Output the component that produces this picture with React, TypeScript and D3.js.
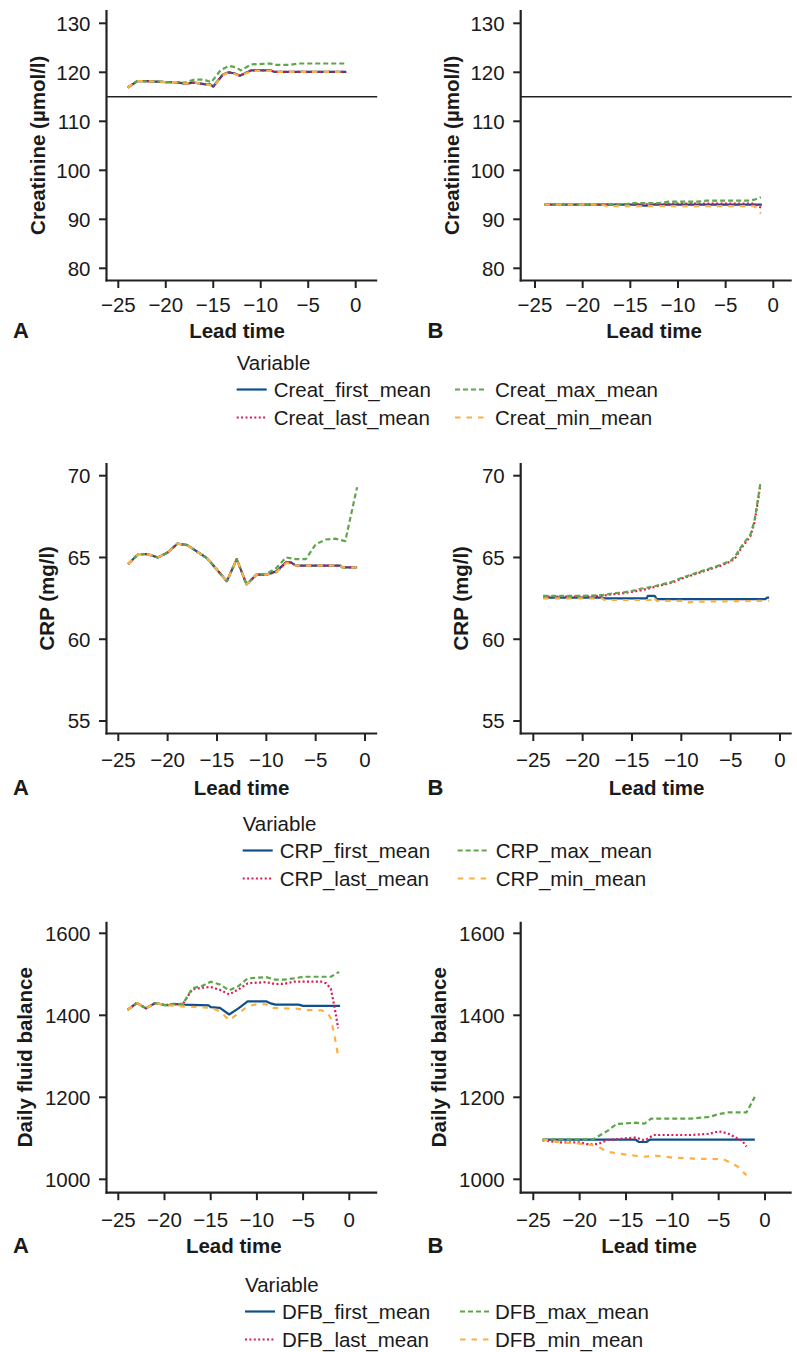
import React from 'react';
import * as d3 from 'd3';

type P = [number, number];

// ---------------- DATA ----------------
const xTicks = [-25, -20, -15, -10, -5, 0];
const creatTicks = [80, 90, 100, 110, 120, 130];
const crpTicks = [55, 60, 65, 70];
const dfbTicks = [1000, 1200, 1400, 1600];
const creatReference = 115;

const creatA_first: P[] = [[-24,116.9],[-23,118.2],[-22,118.2],[-21,118.1],[-20,118.0],[-19,118.0],[-18,117.7],[-17,117.9],[-16,117.6],[-15.3,117.5],[-15,117.1],[-14,119.5],[-13.4,120.0],[-12.8,119.8],[-12.2,119.3],[-11,120.4],[-9,120.4],[-8.6,120.1],[-1,120.1]];
const creatA_last: P[] = [[-24,116.9],[-23,118.2],[-22,118.2],[-21,118.1],[-20,118.0],[-19,118.0],[-18,117.7],[-17,117.9],[-16,117.6],[-15.3,117.5],[-15,117.1],[-14,119.5],[-13.4,120.0],[-12.8,119.8],[-12.2,119.3],[-11,120.4],[-9,120.4],[-8.6,120.1],[-1,120.1]];
const creatA_max: P[] = [[-24,116.9],[-23,118.2],[-21,118.1],[-20,118.0],[-18,117.9],[-17,118.5],[-16,118.5],[-15.2,118.0],[-14.2,120.5],[-13.3,121.3],[-12.6,121.0],[-12.1,120.4],[-11,121.6],[-9,121.8],[-8.5,121.5],[-7,121.5],[-6,121.8],[-1,121.8]];
const creatA_min: P[] = [[-24,116.9],[-23,118.2],[-22,118.2],[-21,118.1],[-20,118.0],[-19,118.0],[-18,117.7],[-17,117.9],[-16,117.6],[-15.3,117.4],[-15,117.0],[-14,119.4],[-13.4,120.0],[-12.8,119.7],[-12.2,119.2],[-11,120.3],[-9,120.3],[-8.6,120.1],[-1,120.1]];

const creatB_first: P[] = [[-24,93.0],[-14,93.0],[-13.6,92.8],[-13,92.8],[-12.7,93.0],[-1.2,93.0]];
const creatB_last: P[] = [[-24,93.0],[-15,93.0],[-12,93.1],[-10,93.2],[-2,93.2],[-1.5,92.6],[-1.2,92.3]];
const creatB_max: P[] = [[-24,93.0],[-15.5,93.0],[-15,93.3],[-12,93.3],[-11,93.6],[-8,93.6],[-7,93.8],[-2.5,93.8],[-2,94.0],[-1.3,94.5]];
const creatB_min: P[] = [[-24,93.0],[-18,93.0],[-17.5,92.7],[-2,92.7],[-1.6,91.8],[-1.3,91.2]];

const crpA_first: P[] = [[-24,64.6],[-23,65.2],[-22,65.2],[-21,65.0],[-20,65.3],[-19,65.85],[-18,65.75],[-16,64.95],[-14,63.55],[-13,64.9],[-12,63.35],[-11,63.95],[-10,63.95],[-9,64.15],[-8,64.7],[-7.5,64.7],[-7,64.5],[-2.5,64.5],[-2.3,64.4],[-0.8,64.4]];
const crpA_last: P[] = [[-24,64.6],[-23,65.2],[-22,65.2],[-21,65.0],[-20,65.3],[-19,65.85],[-18,65.75],[-16,64.95],[-14,63.55],[-13,64.9],[-12,63.35],[-11,63.95],[-10,63.95],[-9,64.1],[-8,64.7],[-7.5,64.7],[-7,64.5],[-2.5,64.5],[-2.3,64.4],[-0.8,64.4]];
const crpA_max: P[] = [[-24,64.6],[-23,65.2],[-22,65.2],[-21,65.0],[-20,65.3],[-19,65.85],[-18,65.75],[-16,64.95],[-14,63.55],[-13,64.9],[-12,63.35],[-11,63.95],[-10,64.0],[-9,64.35],[-8,65.0],[-7,64.9],[-6,64.9],[-5,65.8],[-4,66.1],[-3,66.15],[-2,66.0],[-0.8,69.3]];
const crpA_min: P[] = [[-24,64.6],[-23,65.2],[-22,65.2],[-21,65.0],[-20,65.3],[-19,65.85],[-18,65.75],[-16,64.95],[-14,63.55],[-13,64.9],[-12,63.35],[-11,63.95],[-10,63.95],[-9,64.1],[-8,64.65],[-7.5,64.65],[-7,64.5],[-2.5,64.5],[-2.3,64.4],[-0.8,64.4]];

const crpB_first: P[] = [[-24,62.55],[-18,62.55],[-17.8,62.5],[-13.5,62.5],[-13.4,62.65],[-12.7,62.65],[-12.5,62.45],[-1.5,62.45],[-1.3,62.55],[-1.1,62.55]];
const crpB_last: P[] = [[-24,62.6],[-20,62.6],[-18,62.65],[-17,62.75],[-16,62.8],[-15,62.9],[-14,63.0],[-13,63.15],[-12,63.3],[-11,63.45],[-10,63.7],[-9,63.9],[-8,64.1],[-7,64.3],[-6,64.5],[-5,64.75],[-4.5,65.0],[-4,65.5],[-3.5,65.9],[-3,66.3],[-2.6,67.1],[-2.3,68.2],[-2.0,69.4]];
const crpB_max: P[] = [[-24,62.65],[-20,62.65],[-18,62.7],[-17,62.8],[-16,62.85],[-15,62.95],[-14,63.1],[-13,63.2],[-12,63.35],[-11,63.5],[-10,63.75],[-9,63.95],[-8,64.15],[-7,64.35],[-6,64.55],[-5,64.8],[-4.5,65.1],[-4,65.6],[-3.5,66.0],[-3,66.4],[-2.6,67.2],[-2.3,68.3],[-2.0,69.5]];
const crpB_min: P[] = [[-24,62.5],[-18,62.5],[-17.8,62.4],[-13,62.4],[-12.8,62.6],[-12.5,62.35],[-9.5,62.35],[-9.2,62.25],[-8.5,62.3],[-1.1,62.35]];

const dfbA_first: P[] = [[-24,1413],[-23,1430],[-22,1417],[-21,1430],[-20,1425],[-19.5,1425],[-19,1428],[-18,1426],[-15.2,1424],[-15,1420],[-14,1418],[-13,1402],[-12,1417],[-11,1434],[-9,1434],[-8.5,1429],[-8,1426],[-5.5,1426],[-5,1423],[-1,1423]];
const dfbA_last: P[] = [[-24,1413],[-23,1430],[-22,1417],[-21,1430],[-20,1425],[-19,1427],[-18,1428],[-17,1463],[-16,1467],[-15,1469],[-14,1462],[-13,1451],[-12,1463],[-11,1478],[-9,1481],[-8,1476],[-7,1477],[-6,1482],[-3,1482],[-2.5,1478],[-2,1465],[-1.6,1420],[-1.2,1368]];
const dfbA_max: P[] = [[-24,1413],[-23,1430],[-22,1417],[-21,1430],[-20,1425],[-19,1427],[-18,1428],[-17,1466],[-16,1471],[-15,1482],[-14,1475],[-13,1461],[-12,1471],[-11,1490],[-9,1493],[-8,1487],[-7,1487],[-6,1490],[-5,1494],[-2,1494],[-1.1,1506]];
const dfbA_min: P[] = [[-24,1413],[-23,1430],[-22,1417],[-21,1430],[-20,1425],[-18,1422],[-15,1418],[-14,1410],[-13,1388],[-12,1405],[-11,1422],[-10,1427],[-9,1427],[-8.5,1418],[-5.5,1416],[-5,1413],[-3,1412],[-2.3,1405],[-2,1392],[-1.6,1350],[-1.2,1300]];

const dfbB_first: P[] = [[-24,1097],[-14,1097],[-13.6,1091],[-12.8,1091],[-12.4,1097],[-1.1,1097]];
const dfbB_last: P[] = [[-24,1095],[-22,1090],[-20,1090],[-19,1085],[-18,1086],[-17,1096],[-15,1100],[-14,1102],[-13,1095],[-12,1108],[-8,1108],[-6,1111],[-5,1117],[-4,1112],[-3,1100],[-2.5,1095],[-2,1080]];
const dfbB_max: P[] = [[-24,1097],[-18.5,1098],[-17,1118],[-16,1135],[-14,1138],[-13,1136],[-12.3,1148],[-10,1148],[-8,1148],[-6,1152],[-5,1159],[-4,1163],[-2,1163],[-1.1,1201]];
const dfbB_min: P[] = [[-24,1097],[-22,1090],[-20,1087],[-19,1085],[-18,1080],[-17,1067],[-15,1060],[-13,1055],[-12,1058],[-10,1053],[-7,1050],[-4.5,1049],[-3,1032],[-2,1010]];

const creatLabels = ['Creat_first_mean', 'Creat_last_mean', 'Creat_max_mean', 'Creat_min_mean'];
const crpLabels = ['CRP_first_mean', 'CRP_last_mean', 'CRP_max_mean', 'CRP_min_mean'];
const dfbLabels = ['DFB_first_mean', 'DFB_last_mean', 'DFB_max_mean', 'DFB_min_mean'];

// ---------------- STYLE / LAYOUT ----------------
const COLORS = ['#0e4f8c', '#e0194f', '#5ea64a', '#fbb040'];
const DASHES = [null, '2,2.4', '5,3', '5.5,6'];
const FONT = '"Liberation Sans", Arial, Helvetica, sans-serif';
const TXT = '#1a1a1a';
const FS = 20.5;

const cols = [
  { axisX: 106.5, axisRight: 377.2, letter: 'A', letterX: 13 },
  { axisX: 520.7, axisRight: 791.7, letter: 'B', letterX: 427.5 },
];

const rows = [
  { top: 10, bottom: 280.5, ticks: creatTicks, cal: [80, 268.3, 130, 23.3], tickBase: 312, titleBase: 337.5,
    yTitle: 'Creatinine (µmol/l)', yTitleX: [37.5, 451.5], ref: creatReference,
    xCal: [[118.3, 355.7], [535, 773.3]],
    series: [[creatA_first, creatA_last, creatA_max, creatA_min], [creatB_first, creatB_last, creatB_max, creatB_min]],
    legend: { labels: creatLabels, x: 236.7, cy: 363, col2Line: 455, col2Text: 495 } },
  { top: 463, bottom: 733.5, ticks: crpTicks, cal: [55, 721, 70, 475.7], tickBase: 766.7, titleBase: 795,
    yTitle: 'CRP (mg/l)', yTitleX: [46.7, 461], ref: null,
    xCal: [[118.3, 365], [533.3, 780]],
    series: [[crpA_first, crpA_last, crpA_max, crpA_min], [crpB_first, crpB_last, crpB_max, crpB_min]],
    legend: { labels: crpLabels, x: 242.7, cy: 824, col2Line: 457.7, col2Text: 495.7 } },
  { top: 921.7, bottom: 1192.7, ticks: dfbTicks, cal: [1000, 1179.3, 1600, 933.3], tickBase: 1226.7, titleBase: 1252.5,
    yTitle: 'Daily fluid balance', yTitleX: [25, 439], ref: null,
    xCal: [[118.3, 349.3], [533.3, 765]],
    series: [[dfbA_first, dfbA_last, dfbA_max, dfbA_min], [dfbB_first, dfbB_last, dfbB_max, dfbB_min]],
    legend: { labels: dfbLabels, x: 245, cy: 1285, col2Line: 460, col2Text: 495 } },
];

const fmt = (v: number) => (v < 0 ? '\u2212' + Math.abs(v) : String(v));

function Panel({ row, ci }: { row: any; ci: number }) {
  const col = cols[ci];
  const [v1, p1, v2, p2] = row.cal;
  const y = d3.scaleLinear().domain([v1, v2]).range([p1, p2]);
  const x = d3.scaleLinear().domain([-25, 0]).range(row.xCal[ci]);
  const line = d3.line<P>().x((d) => x(d[0])).y((d) => y(d[1]));
  const series: P[][] = row.series[ci];
  const titleCx = x(-12.5);
  return (
    <g>
      {row.ref != null && (
        <line x1={col.axisX} x2={col.axisRight} y1={y(row.ref)} y2={y(row.ref)} stroke="#222" strokeWidth={1.6} />
      )}
      {series.map((s, i) => (
        <path key={i} d={line(s) || ''} fill="none" stroke={COLORS[i]} strokeWidth={2.2}
          strokeDasharray={DASHES[i] || undefined} strokeLinejoin="round" />
      ))}
      {/* axes */}
      <line x1={col.axisX} x2={col.axisX} y1={row.top} y2={row.bottom + 1} stroke="#222" strokeWidth={2.2} />
      <line x1={col.axisX - 1} x2={col.axisRight} y1={row.bottom} y2={row.bottom} stroke="#222" strokeWidth={2.2} />
      {row.ticks.map((t: number) => (
        <g key={'y' + t}>
          <line x1={col.axisX - 7.5} x2={col.axisX} y1={y(t)} y2={y(t)} stroke="#222" strokeWidth={2} />
          <text x={col.axisX - 16} y={y(t)} dy="0.36em" textAnchor="end" fontSize={FS} fill={TXT} fontFamily={FONT}>{fmt(t)}</text>
        </g>
      ))}
      {xTicks.map((t) => (
        <g key={'x' + t}>
          <line x1={x(t)} x2={x(t)} y1={row.bottom} y2={row.bottom + 7.5} stroke="#222" strokeWidth={2} />
          <text x={x(t)} y={row.tickBase} textAnchor="middle" fontSize={FS} fill={TXT} fontFamily={FONT}>{fmt(t)}</text>
        </g>
      ))}
      <text x={titleCx} y={row.titleBase} textAnchor="middle" fontSize={FS} fontWeight="bold" fill={TXT} fontFamily={FONT}>Lead time</text>
      <text x={col.letterX} y={row.titleBase} fontSize={22} fontWeight="bold" fill={TXT} fontFamily={FONT}>{col.letter}</text>
      <text transform={`translate(${row.yTitleX[ci]},${(row.top + row.bottom) / 2}) rotate(-90)`} dy="0.36em"
        textAnchor="middle" fontSize={FS} fontWeight="bold" fill={TXT} fontFamily={FONT}>{row.yTitle}</text>
    </g>
  );
}

function Legend({ lg }: { lg: any }) {
  const items = [0, 1, 2, 3];
  return (
    <g>
      <text x={lg.x} y={lg.cy} dy="0.36em" fontSize={FS} fill={TXT} fontFamily={FONT}>Variable</text>
      {items.map((i) => {
        const c = i < 2 ? 0 : 1;
        const r = i % 2;
        const cy = lg.cy + (r === 0 ? 26.5 : 54.5);
        const lx = c === 0 ? lg.x : lg.col2Line;
        const tx = c === 0 ? lg.x + 37 : lg.col2Text;
        return (
          <g key={i}>
            <line x1={lx} x2={lx + 30} y1={cy} y2={cy} stroke={COLORS[i]} strokeWidth={2.2}
              strokeDasharray={DASHES[i] || undefined} />
            <text x={tx} y={cy} dy="0.36em" fontSize={FS} fill={TXT} fontFamily={FONT}>{lg.labels[i]}</text>
          </g>
        );
      })}
    </g>
  );
}

export default function App() {
  return (
    <svg width={797} height={1352} style={{ position: 'absolute', left: 0, top: 0, background: '#fff' }}>
      <rect width={797} height={1352} fill="#fff" />
      {rows.map((row, ri) => (
        <g key={ri}>
          <Panel row={row} ci={0} />
          <Panel row={row} ci={1} />
          <Legend lg={row.legend} />
        </g>
      ))}
    </svg>
  );
}
